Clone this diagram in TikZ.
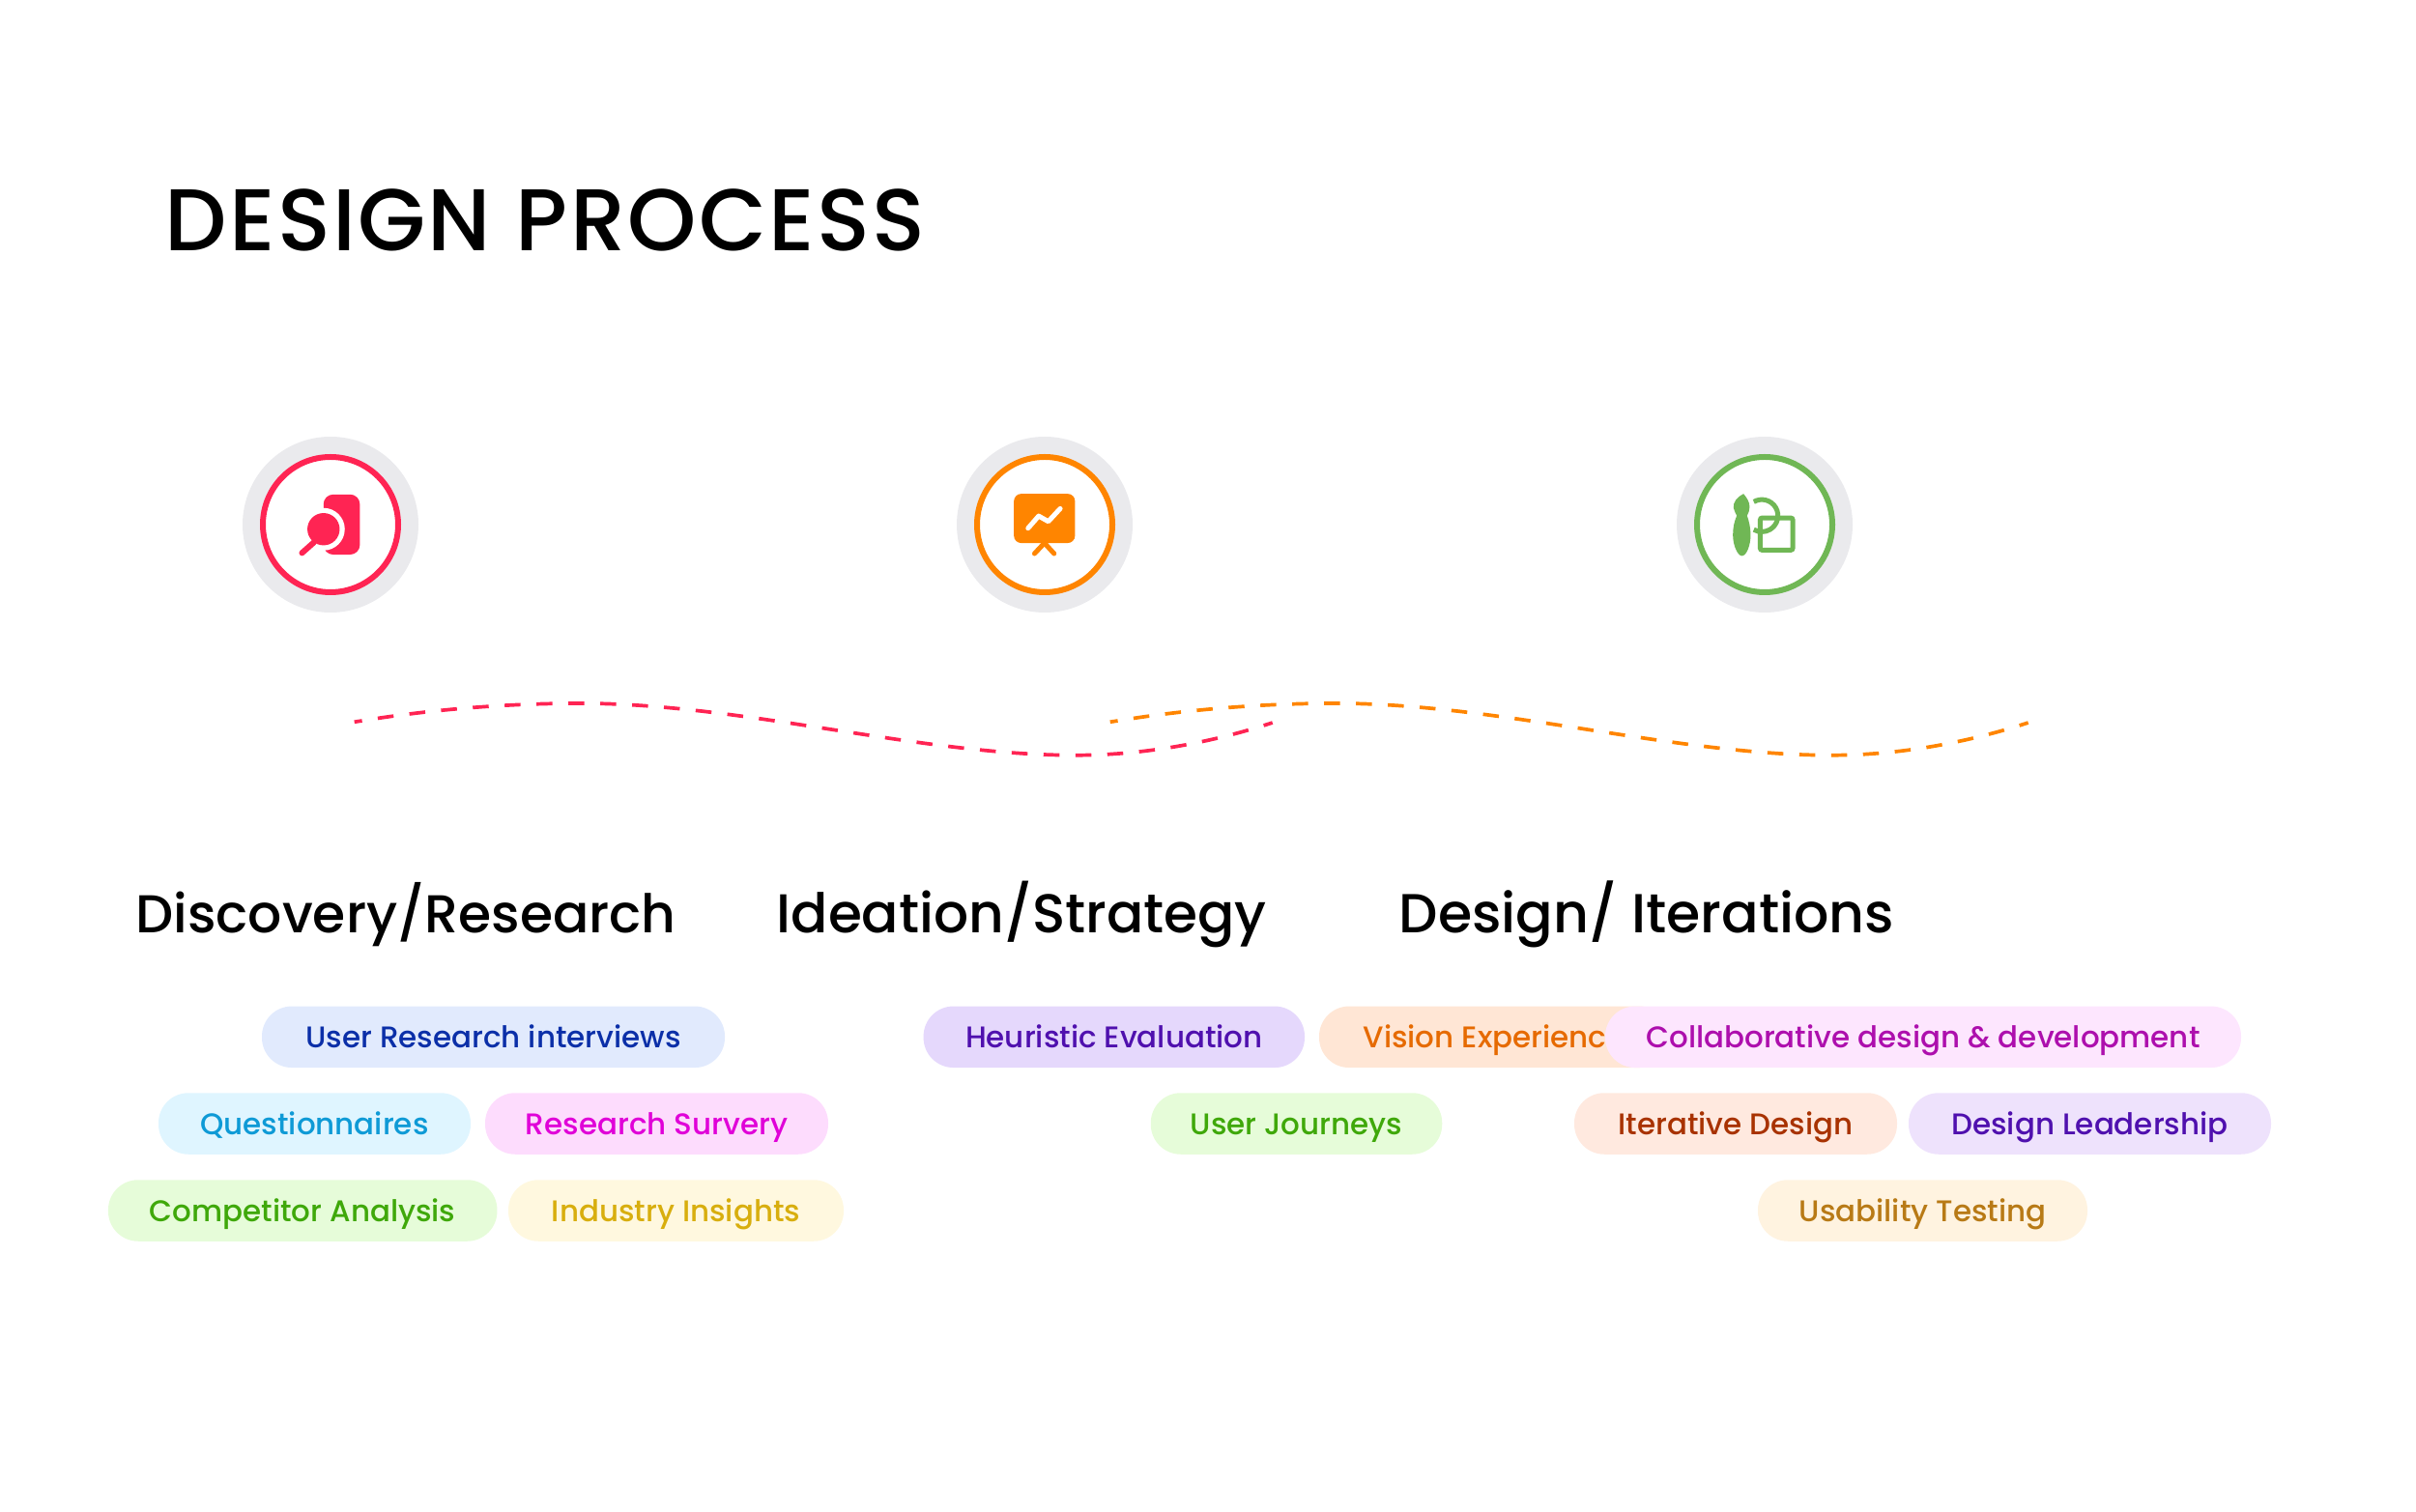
\documentclass[tikz,border=0pt]{standalone}
\usepackage{fontspec}
\setmainfont{Poppins}
\newfontfamily\titlefont[LetterSpace=2.5]{Poppins Medium}
\newfontfamily\mediumfont{Poppins Medium}
\usepackage{tikz}
\usetikzlibrary{positioning,calc}
\definecolor{ringgrey}{HTML}{EAEAED}
\definecolor{discred}{HTML}{FF2453}
\definecolor{ideaorange}{HTML}{FF8500}
\definecolor{iterigreen}{HTML}{70B755}
\definecolor{blueF}{HTML}{E1EAFD}\definecolor{blueT}{HTML}{0B2FA8}
\definecolor{skyF}{HTML}{DFF5FF}\definecolor{skyT}{HTML}{0E9AD6}
\definecolor{pinkF}{HTML}{FDDCFD}\definecolor{pinkT}{HTML}{E000D8}
\definecolor{limeF}{HTML}{E6FCD9}\definecolor{limeT}{HTML}{3FA80A}
\definecolor{sandF}{HTML}{FFF8DF}\definecolor{sandT}{HTML}{D8AE0E}
\definecolor{violetF}{HTML}{E5D8FC}\definecolor{violetT}{HTML}{4F10AE}
\definecolor{peachF}{HTML}{FFE6D5}\definecolor{peachT}{HTML}{E66A00}
\definecolor{orchidF}{HTML}{FDE6FE}\definecolor{orchidT}{HTML}{AD0FAD}
\definecolor{rustF}{HTML}{FFE9DF}\definecolor{rustT}{HTML}{A83200}
\definecolor{lilacF}{HTML}{EEE2FC}
\definecolor{creamF}{HTML}{FFF3E0}\definecolor{creamT}{HTML}{B87A16}

\begin{document}
\begin{tikzpicture}[
      title/.style={anchor=base west, inner sep=0pt, font=\titlefont\fontsize{25.8pt}{30pt}\selectfont},
      stage/.style={anchor=base west, inner sep=0pt, font=\mediumfont\fontsize{#1}{20pt}\selectfont},
      pill/.style 2 args={fill=#1, text=#2, rounded corners=0.31cm, minimum height=0.635cm,
        inner sep=0pt, text height=0.30cm, text depth=0.067cm, font=\mediumfont\fontsize{8.8pt}{11pt}\selectfont},
      halo/.style={circle, fill=ringgrey, minimum size=1.82cm, inner sep=0pt},
      badge/.style={circle, draw=#1, fill=white, line width=0.06cm, minimum size=1.40cm, inner sep=0pt},
      wave/.style={draw=#1, line width=0.037cm, dash pattern=on 0.165cm off 0.165cm, dash phase=0.085cm},
      icon/.style={x=0.003333cm, y=-0.003333cm}
    ]
    \useasboundingbox (0,0) rectangle (25,15.64);

    \node[title] (heading) at (1.70,13.04) {DESIGN PROCESS};

    % ---- circles ----
    \node[halo] (haloA) at (3.42,10.21) {};
    \node[badge=discred] (badgeA) at (haloA) {};
    \node[halo] (haloB) at (10.81,10.21) {};
    \node[badge=ideaorange] (badgeB) at (haloB) {};
    \node[halo] (haloC) at (18.26,10.21) {};
    \node[badge=iterigreen] (badgeC) at (haloC) {};

    % ---- icon: file + magnifier ----
    \begin{scope}[shift={(2.30,11.34)}, icon]
      \fill[discred, rounded corners=0.10cm] (315,246) rectangle (428,433);
      \fill[white] (315,354) circle[radius=0.22cm];
      \fill[discred] (315,354) circle[radius=0.167cm];
      \draw[discred, line width=0.06cm, line cap=round] (285,395) -- (248,428);
    \end{scope}

    % ---- icon: presentation board ----
    \begin{scope}[shift={(9.70,11.34)}, icon]
      \fill[ideaorange, rounded corners=0.075cm] (238,244) rectangle (428,397);
      \draw[white, line width=0.05cm, line cap=round, line join=round]
        (282,351) -- (315,313) -- (345,330) -- (382,290);
      \draw[ideaorange, line width=0.05cm, line cap=round] (333,397) -- (302,430);
      \draw[ideaorange, line width=0.05cm, line cap=round] (333,397) -- (363,430);
    \end{scope}

    % ---- icon: brush + shapes ----
    \begin{scope}[shift={(17.10,11.34)}, icon]
      \fill[iterigreen] (283,244) .. controls (262,255) and (250,270) .. (252,288)
        .. controls (253,298) and (260,304) .. (262,312)
        .. controls (254,330) and (250,350) .. (250,372)
        .. controls (250,405) and (265,437) .. (278,437) .. controls (292,437) and (305,405) .. (305,372)
        .. controls (305,350) and (300,328) .. (294,312)
        .. controls (298,304) and (302,296) .. (302,285)
        .. controls (302,268) and (292,255) .. (283,244);
      \draw[iterigreen, line width=0.05cm, rounded corners=0.02cm] (335,319) rectangle (436,419);
      \draw[iterigreen, line width=0.05cm] (315,268.7) arc[start angle=-120, delta angle=240, radius=50];
    \end{scope}

    % ---- dashed waves ----
    \draw[wave=discred] (3.667,8.167) .. controls (4.40,8.29) and (5.20,8.36) .. (6.00,8.36)
      .. controls (7.70,8.36) and (9.50,7.823) .. (11.13,7.823)
      .. controls (11.90,7.823) and (12.62,7.98) .. (13.167,8.16);
    \draw[wave=ideaorange] (11.487,8.167) .. controls (12.22,8.29) and (13.02,8.36) .. (13.82,8.36)
      .. controls (15.52,8.36) and (17.32,7.823) .. (18.95,7.823)
      .. controls (19.72,7.823) and (20.44,7.98) .. (20.987,8.16);

    % ---- stage names ----
    \node[stage=15.7pt] (stageA) at (1.40,5.98) {Discovery/Research};
    \node[stage=16.1pt] (stageB) at (8.03,5.98) {Ideation/Strategy};
    \node[stage=16.2pt] (stageC) at (14.47,5.98) {Design/ Iterations};

    % ---- pills, first column ----
    \node[pill={blueF}{blueT}, minimum width=4.79cm] (interviews) at (5.105,4.907) {User Research interviews};
    \node[pill={skyF}{skyT}, minimum width=3.23cm] (questionnaires) at (3.255,4.01) {Questionnaires};
    \node[pill={pinkF}{pinkT}, minimum width=3.55cm] (survery) at (6.795,4.01) {Research Survery};
    \node[pill={limeF}{limeT}, minimum width=4.025cm] (competitor) at (3.132,3.11) {Competitor Analysis};
    \node[pill={sandF}{sandT}, minimum width=3.47cm] (insights) at (6.995,3.11) {Industry Insights};

    % ---- pills, second column ----
    \node[pill={violetF}{violetT}, minimum width=3.944cm] (heuristic) at (11.528,4.907) {Heuristic Evaluation};
    \node[pill={peachF}{peachT}, minimum width=3.62cm] (vision) at (15.46,4.907) {Vision Experience};
    \node[pill={limeF}{limeT}, minimum width=3.015cm] (journeys) at (13.415,4.01) {User Journeys};

    % ---- pills, third column ----
    \node[pill={orchidF}{orchidT}, minimum width=6.58cm] (collab) at (19.90,4.907) {Collaborative design \& development};
    \node[pill={rustF}{rustT}, minimum width=3.34cm] (iterative) at (17.96,4.01) {Iterative Design};
    \node[pill={lilacF}{violetT}, minimum width=3.75cm] (leadership) at (21.625,4.01) {Design Leadership};
    \node[pill={creamF}{creamT}, minimum width=3.41cm] (usability) at (19.895,3.11) {Usability Testing};
  \end{tikzpicture}
\end{document}
